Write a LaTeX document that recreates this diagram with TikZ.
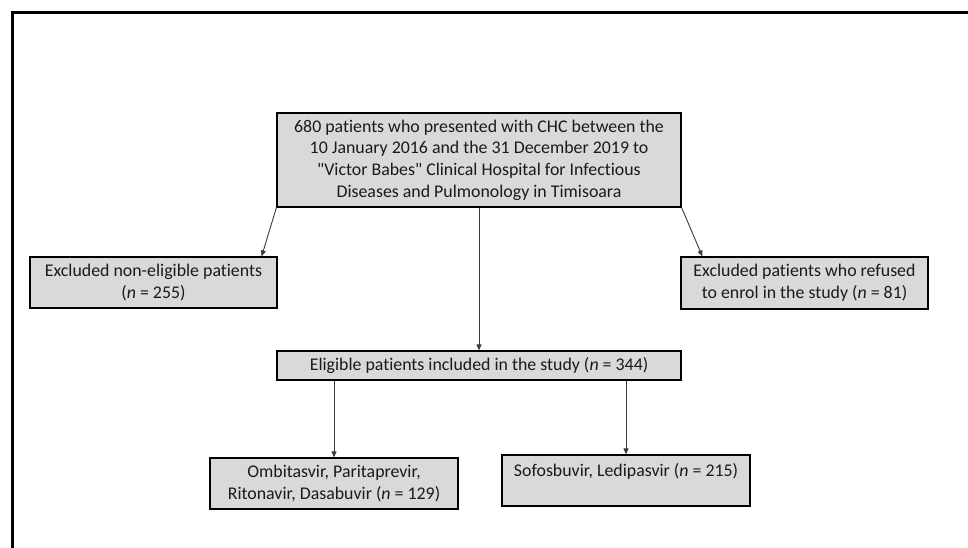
\documentclass[tikz,border=0pt]{standalone}
\usepackage{fontspec}
\setmainfont[Ligatures={NoCommon}]{Carlito}
\usetikzlibrary{arrows.meta,calc}
\definecolor{boxgray}{HTML}{D9D9D9}
\definecolor{linegray}{HTML}{3A3A3A}
\definecolor{textgray}{HTML}{1A1A1A}
\tikzset{
  box/.style={draw=black, line width=1.2pt, fill=boxgray, inner sep=0pt,
    align=center, text=textgray, font=\fontsize{17.85}{21.7}\selectfont},
  conn/.style={draw=linegray, line width=0.9pt, -{Triangle[length=6pt,width=5pt]}},
  frameline/.style={draw=black, line width=2.2pt}
}
\begin{document}
\begin{tikzpicture}[x=1pt,y=-1pt]
\useasboundingbox (0,0) rectangle (968,548);
\draw[frameline] (12.5,548) -- (12.5,12.5) -- (968,12.5);

\node[box, minimum width=404pt, minimum height=94pt] (top) at (479,160)
  {680 patients who presented with CHC between the\\
   10 January 2016 and the 31 December 2019 to\\
   \textquotedbl Victor Babes\textquotedbl{} Clinical Hospital for Infectious\\
   Diseases and Pulmonology in Timisoara};
\node[box, minimum width=247pt, minimum height=51pt] (left) at (153.5,282.5)
  {Excluded non-eligible patients\\(\textit{n} = 255)};
\node[box, minimum width=247pt, minimum height=52pt] (right) at (804.5,283)
  {Excluded patients who refused\\to enrol in the study (\textit{n} = 81)};
\node[box, minimum width=404pt, minimum height=29pt] (elig) at (479,365.5)
  {Eligible patients included in the study (\textit{n} = 344)};
\node[box, minimum width=248pt, minimum height=51pt] (bl) at (334,483.5)
  {Ombitasvir, Paritaprevir,\\Ritonavir, Dasabuvir (\textit{n} = 129)};
\node[box, minimum width=248pt, minimum height=51pt] (br) at (626,480.5)
  {Sofosbuvir, Ledipasvir (\textit{n} = 215)\\\mbox{}};

\draw[conn] (top.south west) -- ($(left.north east)+(-16,0)$);
\draw[conn] (top.south east) -- ($(right.north west)+(22,0)$);
\draw[conn] (top.south) -- (elig.north);
\draw[conn] (elig.south -| bl.north) -- (bl.north);
\draw[conn] (elig.south -| br.north) -- (br.north);
\end{tikzpicture}
\end{document}
